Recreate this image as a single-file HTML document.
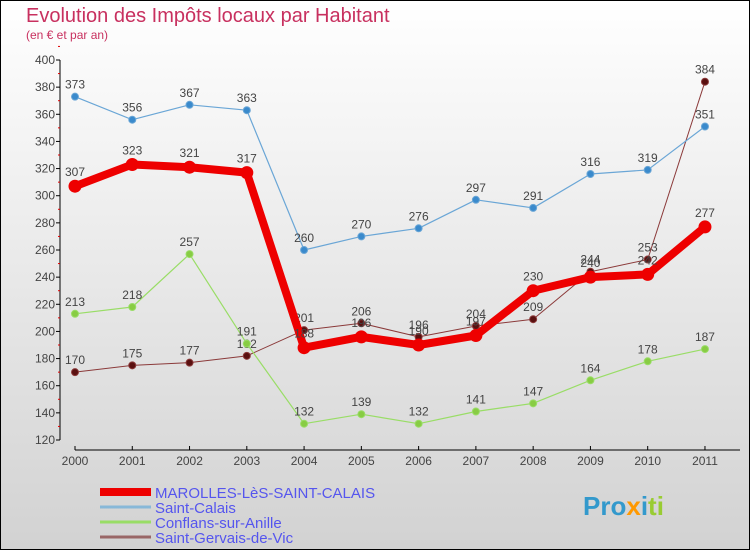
<!DOCTYPE html>
<html><head><meta charset="utf-8"><style>
body{margin:0}
svg{display:block;font-family:"Liberation Sans",sans-serif}
</style></head><body>
<svg width="750" height="550">
<defs><linearGradient id="bg" x1="0" y1="0" x2="0" y2="1"><stop offset="0" stop-color="#ffffff"/><stop offset="1" stop-color="#d2d2d2"/></linearGradient></defs>
<rect x="0.5" y="0.5" width="749" height="549" fill="url(#bg)" stroke="#000"/>
<text x="26" y="22" font-size="20" fill="#c8305f">Evolution des Impôts locaux par Habitant</text>
<text x="26" y="39" font-size="12" fill="#c8305f">(en € et par an)</text>
<g id="axes"></g>
<g id="series"></g>
<g id="legend"></g>
<text x="583" y="515" font-size="26" font-weight="bold" fill="#3399cc">Pro<tspan fill="#ff9900">x</tspan><tspan fill="#3399cc">i</tspan><tspan fill="#99cc33">ti</tspan></text>
</svg>
<script>
const years=[2000,2001,2002,2003,2004,2005,2006,2007,2008,2009,2010,2011];
const yTicks=[120,140,160,180,200,220,240,260,280,300,320,340,360,380,400];
const marolles=[307,323,321,317,188,196,190,197,230,240,242,277];
const saintCalais=[373,356,367,363,260,270,276,297,291,316,319,351];
const conflans=[213,218,257,191,132,139,132,141,147,164,178,187];
const saintGervais=[170,175,177,182,201,206,196,204,209,244,253,384];
const seriesNames=["MAROLLES-LèS-SAINT-CALAIS","Saint-Calais","Conflans-sur-Anille","Saint-Gervais-de-Vic"];
const NS="http://www.w3.org/2000/svg";
const X=i=>75+i*57.27;
const Y=v=>440-(v-120)*380/280;
function mk(t,a,p){const e=document.createElementNS(NS,t);for(const k in a)e.setAttribute(k,a[k]);p.appendChild(e);return e;}
const axes=document.getElementById('axes');
let yl=mk('line',{x1:60,y1:60,x2:60,y2:440,stroke:'#000'},axes);


yTicks.forEach(v=>{
 mk('line',{x1:56,y1:Y(v),x2:60,y2:Y(v),stroke:'#000'},axes);
 mk('line',{x1:58,y1:Y(v+10),x2:60,y2:Y(v+10),stroke:'#d00'},axes);
 const t=mk('text',{x:55,y:Y(v)+4,'font-size':12,fill:'#444','text-anchor':'end'},axes);t.textContent=v;
 
 
});
let xl=mk('line',{x1:75,y1:450,x2:740,y2:450,stroke:'#000'},axes);


years.forEach((y,i)=>{
 mk('line',{x1:X(i),y1:446,x2:X(i),y2:450,stroke:'#000'},axes);
 const t=mk('text',{x:X(i),y:465,'font-size':12,fill:'#444','text-anchor':'middle'},axes);t.textContent=y;
 
 
});
const sg=document.getElementById('series');
function draw(data,color,w,r,dot,name,labOff){
 const g=mk('g',{},sg);
 
 
 mk('polyline',{points:data.map((v,i)=>X(i)+','+Y(v)).join(' '),fill:'none',stroke:color,'stroke-width':w,'stroke-linejoin':'round'},g);
 data.forEach((v,i)=>{
  const c=mk('circle',{cx:X(i),cy:Y(v),r:r,fill:dot,stroke:color,'stroke-width':1},g);
  
  
  const t=mk('text',{x:X(i),y:Y(v)-labOff,'font-size':12,fill:'#444','text-anchor':'middle'},g);t.textContent=v;
  
  
 });
}
draw(saintGervais,'#8b3a3a',1,3.5,'#5a1010','saint-gervais-series',8);
draw(conflans,'#99dd66',1.2,3.5,'#88cc44','conflans-series',8);
draw(saintCalais,'#6aa6d6',1.2,3.5,'#3a8acc','saint-calais-series',8);
draw(marolles,'#ee0000',8,6,'#ee0000','marolles-series',10);
const lg=document.getElementById('legend');
const lc=['#ee0000','#88b8d8','#99dd66','#996666'],lw=[8,3,3,3];
seriesNames.forEach((n,i)=>{
 const y=492+i*15;
 const l=mk('line',{x1:100,y1:y,x2:151,y2:y,stroke:lc[i],'stroke-width':lw[i]},lg);
 
 
 const t=mk('text',{x:155,y:y+6,'font-size':15,fill:'#5555ee'},lg);t.textContent=n;
 
 
});
</script>
</body></html>
